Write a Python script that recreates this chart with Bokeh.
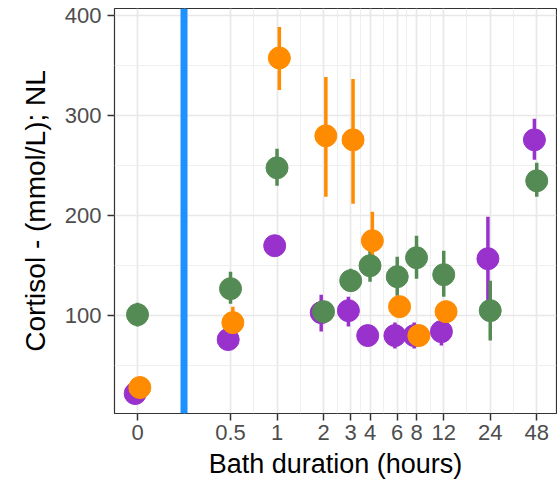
import math
from bokeh.plotting import figure
from bokeh.models import Range1d, FixedTicker, Span, CustomJSTickFormatter
from bokeh.embed import file_html
from bokeh.resources import INLINE

# ---------------- data ----------------
hours = [0, 0.5, 1, 2, 3, 4, 6, 8, 12, 24, 48]
tick_labels = ["0", "0.5", "1", "2", "3", "4", "6", "8", "12", "24", "48"]

purple_mean = [22, 76, 170, 103, 105, 80, 80, 80, 84, 157, 276]
purple_lo   = [18, 71, 165, 84, 89, 75, 67, 67, 70, 115, 256]
purple_hi   = [26, 81, 175, 121, 119, 85, 93, 93, 95, 199, 297]

green_mean = [101, 127, 248, 104, 135, 150, 139, 158, 141, 105, 235]
green_lo   = [89, 112, 230, 99, 124, 134, 120, 137, 119, 75, 219]
green_hi   = [113, 144, 267, 109, 147, 166, 159, 180, 165, 135, 253]

orange_hours = [0, 0.5, 1, 2, 3, 4, 6, 8, 12]
orange_mean = [28, 93, 358, 280, 276, 175, 109, 80, 104]
orange_lo   = [24, 76, 326, 219, 212, 146, 104, 76, 99]
orange_hi   = [32, 109, 389, 339, 337, 204, 114, 84, 109]

y_ticks = [100, 200, 300, 400]

# ---------------- helpers ----------------
ZERO_POS = 0.125   # where the 0 h group sits on the log axis
BREAK_POS = 0.25   # axis-break marker between 0 and 0.5 h
DODGE = 2 ** 0.05  # small horizontal dodge between groups


def xpos(hs, factor=1.0):
    return [(ZERO_POS if h == 0 else h) * factor for h in hs]


tick_pos = xpos(hours)
minor_pos = [math.sqrt(a * b) for a, b in zip(tick_pos[:-1], tick_pos[1:])]
y_minor = [50, 150, 250, 350]

FONT = "Liberation Sans"

p = figure(width=557, height=490, x_axis_type="log",
           output_backend="svg", toolbar_location=None,
           x_range=Range1d(2 ** -3.495, 2 ** 6.01),
           y_range=Range1d(2, 407.5),
           min_border_left=114, min_border_right=1,
           min_border_top=8, min_border_bottom=77)

p.background_fill_color = "white"
p.border_fill_color = "white"
p.outline_line_color = "#333333"
p.outline_line_width = 1.2

p.xaxis[0].ticker = FixedTicker(ticks=tick_pos, minor_ticks=minor_pos)
p.yaxis[0].ticker = FixedTicker(ticks=y_ticks, minor_ticks=y_minor)
p.xaxis[0].formatter = CustomJSTickFormatter(args=dict(pos=tick_pos, labels=tick_labels), code="""
let best = 0, bd = Infinity;
for (let i = 0; i < pos.length; i++) {
  const d = Math.abs(Math.log(tick) - Math.log(pos[i]));
  if (d < bd) { bd = d; best = i; }
}
return labels[best];
""")

for g in (p.xgrid[0], p.ygrid[0]):
    g.grid_line_color = "#E8E8E8"
    g.grid_line_width = 1.7
    g.minor_grid_line_color = "#EFEFEF"
    g.minor_grid_line_width = 1.0

for ax in (p.xaxis[0], p.yaxis[0]):
    ax.axis_line_color = None
    ax.major_tick_out = 7
    ax.major_tick_in = 0
    ax.minor_tick_out = 0
    ax.minor_tick_in = 0
    ax.major_tick_line_color = "#333333"
    ax.major_tick_line_width = 1.5
    ax.major_label_text_font = FONT
    ax.major_label_text_font_size = "22px"
    ax.major_label_text_color = "#4D4D4D"
    ax.axis_label_text_font = FONT
    ax.axis_label_text_font_style = "normal"
    ax.axis_label_text_color = "#000000"

p.xaxis[0].axis_label = "Bath duration (hours)"
p.xaxis[0].axis_label_text_font_size = "27px"
p.xaxis[0].major_label_standoff = 4
p.xaxis[0].axis_label_standoff = 6

p.yaxis[0].axis_label = "Cortisol - (mmol/L); NL"
p.yaxis[0].axis_label_text_font_size = "28px"
p.yaxis[0].major_label_standoff = 6
p.yaxis[0].axis_label_standoff = 11

# axis-break line
p.add_layout(Span(location=BREAK_POS, dimension="height",
                  line_color="#1E90FF", line_width=7))

PURPLE = "#9932CC"
GREEN = "#548B54"
ORANGE = "#FF8C00"

series = [
    (xpos(hours, 1 / DODGE), purple_mean, purple_lo, purple_hi, PURPLE),
    (xpos(hours), green_mean, green_lo, green_hi, GREEN),
    (xpos(orange_hours, DODGE), orange_mean, orange_lo, orange_hi, ORANGE),
]

for xs, m, lo, hi, c in series:
    p.segment(x0=xs, y0=lo, x1=xs, y1=hi, line_color=c, line_width=3.5)
for xs, m, lo, hi, c in series:
    p.scatter(x=xs, y=m, size=22, fill_color=c, line_color=c, line_width=1)

open("out.html", "w").write(file_html(p, INLINE))
